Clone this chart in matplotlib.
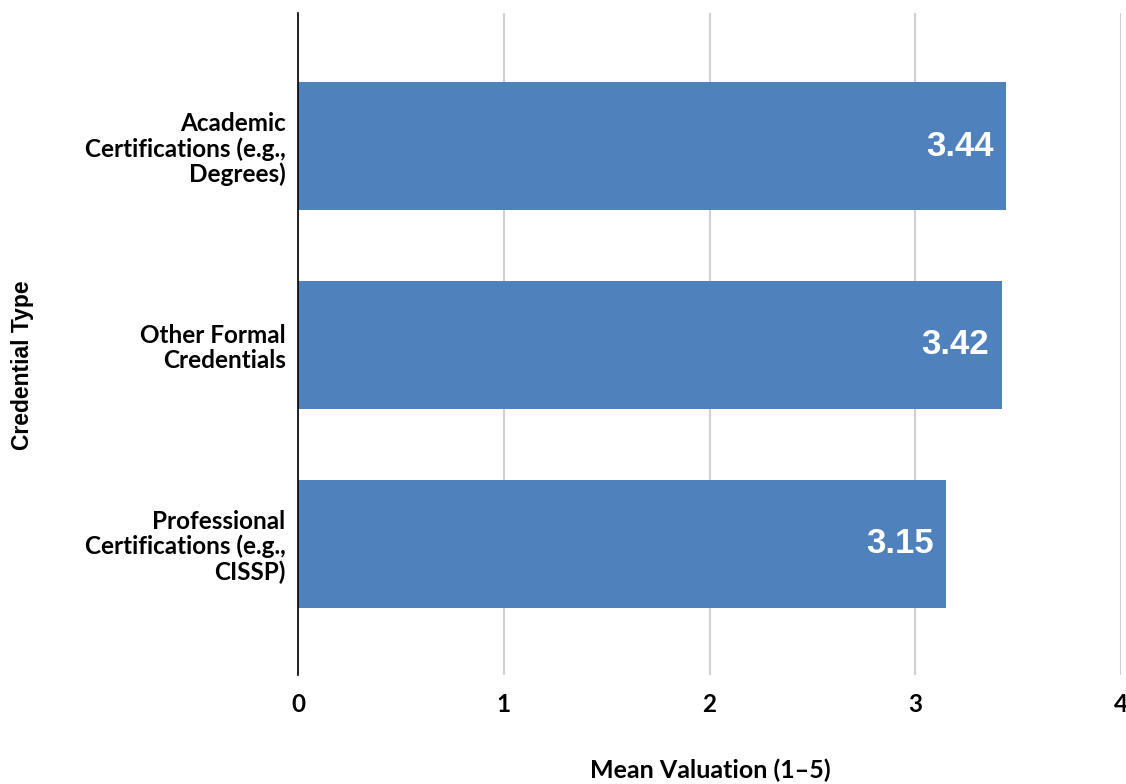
import matplotlib.pyplot as plt

categories = [
    "Academic\nCertifications (e.g.,\nDegrees)",
    "Other Formal\nCredentials",
    "Professional\nCertifications (e.g.,\nCISSP)",
]
values = [3.44, 3.42, 3.15]
x_ticks = [0, 1, 2, 3, 4]

bar_color = "#4f81bd"

fig = plt.figure(figsize=(11.26, 7.84), dpi=100)
ax = fig.add_axes([298 / 1126, 109 / 784, 823 / 1126, 662 / 784])

pos = list(range(len(categories)))
bars = ax.barh(pos, values, height=0.645, color=bar_color, zorder=2)

for y, v in zip(pos, values):
    ax.text(
        v - 0.06, y, f"{v:.2f}",
        ha="right", va="center",
        color="white", fontsize=25, fontweight="bold",
        family="Liberation Sans", zorder=3
    )

ax.set_xlim(0, 4)
ax.set_ylim(2.66, -0.67)
ax.set_xticks(x_ticks)
ax.set_xticklabels([str(t) for t in x_ticks], fontsize=17.5, fontweight="bold", family="Lato")
ax.set_yticks(pos)
ax.set_yticklabels(categories, fontsize=17.5, fontweight="bold", family="Lato", linespacing=1.1)

ax.tick_params(axis="x", length=0, pad=13)
ax.tick_params(axis="y", length=0, pad=9)

ax.grid(axis="x", color="#d0d0d0", linewidth=1.5, zorder=1)
ax.set_axisbelow(True)

for side in ["top", "right", "bottom"]:
    ax.spines[side].set_visible(False)
ax.spines["left"].set_color("black")
ax.spines["left"].set_linewidth(1.2)
ax.spines["left"].set_zorder(4)

fig.text(710 / 1126, 1 - 770 / 784, "Mean Valuation (1\u20135)",
         ha="center", va="center", fontsize=18, fontweight="bold", family="Lato")
fig.text(22 / 1126, 1 - 365 / 784, "Credential Type",
         ha="center", va="center", rotation=90,
         fontsize=16.5, fontweight="bold", family="Liberation Sans")

fig.savefig("out.png", dpi=100)
